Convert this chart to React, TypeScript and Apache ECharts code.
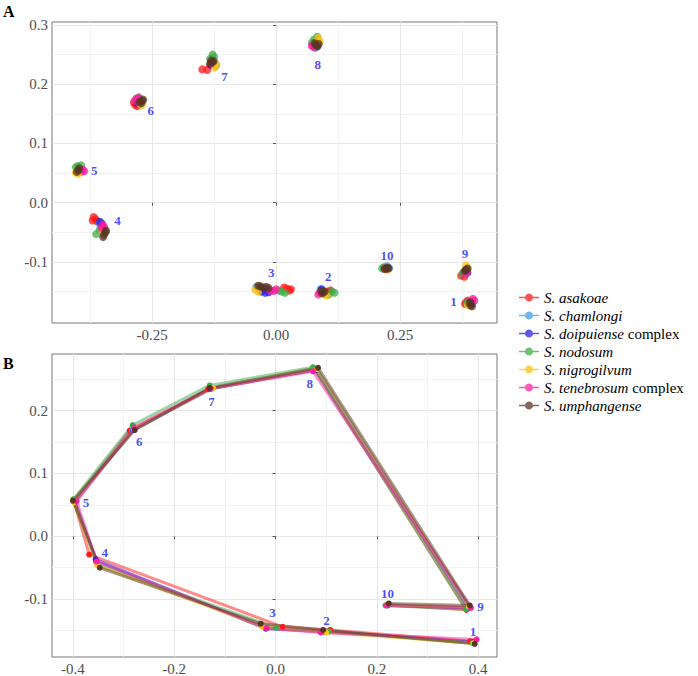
import React, { useEffect, useRef } from "react";
import * as echarts from "echarts";

const species = [
  "S. asakoae",
  "S. chamlongi",
  "S. doipuiense complex",
  "S. nodosum",
  "S. nigrogilvum",
  "S. tenebrosum complex",
  "S. umphangense",
];
const colors = ["#ff1a1a", "#3d9fe8", "#2a1fe0", "#3cae45", "#ffc20e", "#ff1f9e", "#5a3421"];

const landmarkNames = ["1", "2", "3", "4", "5", "6", "7", "8", "9", "10"];

// Panel A: specimen landmark coordinates (Procrustes aligned)
const asakoaeA = [
  [0.383, -0.168], [0.387, -0.165], [0.381, -0.171],
  [0.104, -0.15], [0.11, -0.148], [0.1, -0.153],
  [0.022, -0.145], [0.027, -0.148], [0.016, -0.143], [0.03, -0.146],
  [-0.368, -0.024], [-0.364, -0.028], [-0.37, -0.03], [-0.36, -0.032],
  [-0.398, 0.057], [-0.394, 0.052],
  [-0.284, 0.165], [-0.28, 0.163], [-0.287, 0.169],
  [-0.149, 0.225], [-0.139, 0.224], [-0.133, 0.232],
  [0.078, 0.262], [0.074, 0.266],
  [0.373, -0.123], [0.377, -0.119], [0.38, -0.125],
  [0.219, -0.11], [0.223, -0.112],
];
const chamlongiA = [
  [0.392, -0.168], [0.396, -0.17],
  [0.09, -0.146], [0.096, -0.15],
  [-0.04, -0.142], [-0.028, -0.147],
  [-0.356, -0.035], [-0.352, -0.04],
  [-0.396, 0.057], [-0.401, 0.053],
  [-0.279, 0.171], [-0.274, 0.168],
  [-0.124, 0.236], [-0.121, 0.231], [-0.128, 0.24],
  [0.086, 0.27], [0.08, 0.262],
  [0.386, -0.113], [0.38, -0.116],
  [0.228, -0.11], [0.224, -0.107],
];
const doipuienseA = [
  [0.39, -0.168], [0.394, -0.171],
  [0.092, -0.146], [0.098, -0.153],
  [-0.022, -0.152], [-0.015, -0.151], [-0.03, -0.15],
  [-0.355, -0.032], [-0.351, -0.036],
  [-0.397, 0.055],
  [-0.281, 0.169], [-0.276, 0.173],
  [-0.127, 0.236], [-0.131, 0.233],
  [0.082, 0.265], [0.078, 0.27],
  [0.383, -0.114], [0.386, -0.118],
  [0.221, -0.11],
];
const nodosumA = [
  [0.388, -0.171], [0.385, -0.169],
  [0.118, -0.152], [0.112, -0.15], [0.106, -0.155],
  [0.011, -0.15], [0.004, -0.148], [0.018, -0.152],
  [-0.363, -0.053], [-0.356, -0.046],
  [-0.4, 0.062], [-0.404, 0.06], [-0.393, 0.063],
  [-0.282, 0.176], [-0.277, 0.178],
  [-0.128, 0.25], [-0.133, 0.243], [-0.125, 0.246],
  [0.072, 0.27], [0.076, 0.275], [0.083, 0.28],
  [0.376, -0.12], [0.379, -0.117],
  [0.214, -0.111], [0.217, -0.109],
];
const nigrogilvumA = [
  [0.391, -0.172], [0.387, -0.173],
  [0.102, -0.157], [0.098, -0.154],
  [-0.042, -0.147], [-0.036, -0.15],
  [-0.35, -0.049], [-0.346, -0.044],
  [-0.399, 0.049], [-0.404, 0.051],
  [-0.27, 0.165], [-0.274, 0.167],
  [-0.124, 0.228], [-0.12, 0.233],
  [0.085, 0.278], [0.088, 0.272],
  [0.383, -0.106], [0.387, -0.11],
  [0.224, -0.113],
];
const tenebrosumA = [
  [0.4, -0.165], [0.397, -0.162],
  [0.085, -0.155], [0.088, -0.152],
  [-0.005, -0.149], [-0.012, -0.148], [0.0, -0.146],
  [-0.35, -0.037], [-0.347, -0.041], [-0.352, -0.043],
  [-0.387, 0.053], [-0.39, 0.056],
  [-0.281, 0.175], [-0.277, 0.177], [-0.285, 0.172],
  [-0.13, 0.236],
  [0.076, 0.263], [0.072, 0.265],
  [0.385, -0.116], [0.381, -0.12],
  [0.22, -0.111],
];
const umphangenseA = [
  [0.393, -0.173], [0.39, -0.17], [0.395, -0.175], [0.392, -0.168],
  [0.095, -0.151], [0.091, -0.149], [0.098, -0.15], [0.093, -0.153],
  [-0.032, -0.141], [-0.026, -0.143], [-0.02, -0.142], [-0.036, -0.14], [-0.015, -0.144],
  [-0.347, -0.054], [-0.344, -0.05], [-0.349, -0.058], [-0.343, -0.047],
  [-0.399, 0.055], [-0.402, 0.052], [-0.397, 0.058],
  [-0.272, 0.168], [-0.276, 0.17], [-0.27, 0.172], [-0.268, 0.174],
  [-0.129, 0.237], [-0.133, 0.235], [-0.126, 0.239], [-0.131, 0.24],
  [0.08, 0.266], [0.084, 0.264], [0.078, 0.269], [0.086, 0.268],
  [0.383, -0.113], [0.386, -0.111], [0.381, -0.115],
  [0.222, -0.111], [0.225, -0.11], [0.219, -0.112], [0.227, -0.111],
];

// Panel B: mean shapes, landmarks 1..10
const asakoaeB = [
  [0.384, -0.167], [0.108, -0.149], [0.014, -0.144], [-0.368, -0.029], [-0.398, 0.056],
  [-0.288, 0.168], [-0.133, 0.234], [0.078, 0.265], [0.377, -0.117], [0.221, -0.109],
];
const chamlongiB = [
  [0.392, -0.169], [0.098, -0.151], [-0.02, -0.146], [-0.355, -0.04], [-0.397, 0.056],
  [-0.283, 0.169], [-0.125, 0.235], [0.082, 0.266], [0.382, -0.113], [0.222, -0.109],
];
const doipuienseB = [
  [0.391, -0.168], [0.096, -0.152], [-0.019, -0.147], [-0.355, -0.037], [-0.396, 0.055],
  [-0.281, 0.169], [-0.128, 0.235], [0.08, 0.265], [0.381, -0.114], [0.222, -0.11],
];
const nodosumB = [
  [0.389, -0.17], [0.106, -0.151], [0.001, -0.1455], [-0.352, -0.045], [-0.399, 0.059],
  [-0.282, 0.177], [-0.13, 0.24], [0.074, 0.269], [0.376, -0.116], [0.217, -0.11],
];
const nigrogilvumB = [
  [0.391, -0.17], [0.1, -0.153], [-0.026, -0.144], [-0.352, -0.046], [-0.398, 0.054],
  [-0.28, 0.17], [-0.123, 0.236], [0.082, 0.266], [0.382, -0.112], [0.222, -0.109],
];
const tenebrosumB = [
  [0.397, -0.164], [0.089, -0.153], [-0.018, -0.146], [-0.353, -0.04], [-0.393, 0.0556],
  [-0.28, 0.173], [-0.128, 0.235], [0.074, 0.2625], [0.386, -0.114], [0.22, -0.11],
];
const umphangenseB = [
  [0.3935, -0.171], [0.094, -0.149], [-0.029, -0.139], [-0.347, -0.05], [-0.4, 0.0567],
  [-0.278, 0.169], [-0.13, 0.236], [0.084, 0.268], [0.3836, -0.11], [0.2237, -0.1068],
];

// Landmark label positions (data coordinates)
const labelAx = [0.358, 0.105, -0.01, -0.32, -0.367, -0.253, -0.104, 0.084, 0.381, 0.2235];
const labelAy = [-0.1666, -0.1245, -0.117, -0.0305, 0.0543, 0.155, 0.2128, 0.234, -0.086, -0.089];
const labelBx = [0.39, 0.1007, -0.006, -0.337, -0.3745, -0.269, -0.1264, 0.0677, 0.4047, 0.221];
const labelBy = [-0.1508, -0.1338, -0.1216, -0.0254, 0.0535, 0.1514, 0.2143, 0.2424, -0.111, -0.0914];

// Axis ticks
const ticksAx = [-0.25, 0, 0.25];
const minorAx = [-0.375, -0.125, 0.125, 0.375];
const ticksAy = [-0.1, 0, 0.1, 0.2, 0.3];
const minorAy = [-0.15, -0.05, 0.05, 0.15, 0.25];
const ticksBx = [-0.4, -0.2, 0, 0.2, 0.4];
const minorBx = [-0.3, -0.1, 0.1, 0.3];
const ticksBy = [-0.1, 0, 0.1, 0.2];
const minorBy = [-0.15, -0.05, 0.05, 0.15, 0.25];

const panelA = [asakoaeA, chamlongiA, doipuienseA, nodosumA, nigrogilvumA, tenebrosumA, umphangenseA];
const panelB = [asakoaeB, chamlongiB, doipuienseB, nodosumB, nigrogilvumB, tenebrosumB, umphangenseB];

const SERIF = "Liberation Serif";

function majorAxis(gridIndex: number, min: number, max: number, ticks: number[], digits: number, pos: string) {
  return {
    type: "value",
    gridIndex,
    min,
    max,
    position: pos,
    axisLine: { show: false },
    axisTick: { show: true, length: 3, customValues: ticks, lineStyle: { color: "#555", width: 1 } },
    axisLabel: {
      show: true,
      customValues: ticks,
      formatter: (v: number) => v.toFixed(digits),
      fontFamily: SERIF,
      fontSize: 15,
      color: "#4d4d4d",
      margin: 4,
    },
    splitLine: { show: true, lineStyle: { color: "#e6e6e6", width: 1 } },
  };
}
function minorAxis(gridIndex: number, min: number, max: number, ticks: number[], pos: string) {
  return {
    type: "value",
    gridIndex,
    min,
    max,
    position: pos,
    axisLine: { show: false },
    axisTick: { show: false, customValues: ticks },
    axisLabel: { show: false, customValues: ticks },
    splitLine: { show: true, lineStyle: { color: "#f2f2f2", width: 1 } },
  };
}

export default function App() {
  const ref = useRef<HTMLDivElement>(null);
  useEffect(() => {
    document.body.style.margin = "0";
    const chart = echarts.init(ref.current!, null, { renderer: "svg" });
    const series: any[] = [];
    species.forEach((name, i) => {
      series.push({
        type: "scatter",
        name,
        xAxisIndex: 0,
        yAxisIndex: 0,
        data: panelA[i],
        symbolSize: 8,
        itemStyle: { color: colors[i], opacity: 0.75 },
        z: 3,
      });
    });
    species.forEach((name, i) => {
      series.push({
        type: "line",
        name,
        xAxisIndex: 2,
        yAxisIndex: 2,
        data: panelB[i],
        showSymbol: false,
        symbol: "none",
        lineStyle: { color: colors[i], width: 3, opacity: 0.5 },
        itemStyle: { color: colors[i] },
        z: 2,
      });
    });
    species.forEach((name, i) => {
      series.push({
        type: "scatter",
        name,
        xAxisIndex: 2,
        yAxisIndex: 2,
        data: panelB[i],
        symbolSize: 6,
        itemStyle: { color: colors[i], opacity: 1 },
        z: 4,
      });
    });
    const labelStyle = {
      show: true,
      position: "inside",
      formatter: (p: any) => p.value[2],
      color: "#1a1aff",
      fontFamily: SERIF,
      fontWeight: "bold",
      fontSize: 13,
    };
    series.push({
      type: "scatter",
      name: "labelsA",
      xAxisIndex: 0,
      yAxisIndex: 0,
      symbolSize: 0,
      data: landmarkNames.map((n, i) => [labelAx[i], labelAy[i], n]),
      label: labelStyle,
      z: 6,
    });
    series.push({
      type: "scatter",
      name: "labelsB",
      xAxisIndex: 2,
      yAxisIndex: 2,
      symbolSize: 0,
      data: landmarkNames.map((n, i) => [labelBx[i], labelBy[i], n]),
      label: labelStyle,
      z: 6,
    });

    const option: any = {
      animation: false,
      backgroundColor: "#ffffff",
      grid: [
        { left: 52, top: 22, width: 445, height: 301, show: true, borderColor: "#777", borderWidth: 1, backgroundColor: "transparent" },
        { left: 52, top: 354, width: 445, height: 304, show: true, borderColor: "#777", borderWidth: 1, backgroundColor: "transparent" },
      ],
      xAxis: [
        majorAxis(0, -0.452, 0.4456, ticksAx, 2, "bottom"),
        minorAxis(0, -0.452, 0.4456, minorAx, "top"),
        majorAxis(1, -0.4414, 0.4374, ticksBx, 1, "bottom"),
        minorAxis(1, -0.4414, 0.4374, minorBx, "top"),
      ],
      yAxis: [
        majorAxis(0, -0.203, 0.305, ticksAy, 1, "left"),
        minorAxis(0, -0.203, 0.305, minorAy, "right"),
        majorAxis(1, -0.192, 0.29, ticksBy, 1, "left"),
        minorAxis(1, -0.192, 0.29, minorBy, "right"),
      ],
      legend: {
        data: species,
        orient: "vertical",
        left: 514,
        top: 285,
        itemGap: 3,
        itemWidth: 20,
        itemHeight: 8,
        icon: "path://M0,3.3h20v1.4h-20z M10,0a4,4 0 1,1 -0.001,0z",
        selectedMode: false,
        formatter: (name: string) => {
          if (name.endsWith(" complex")) {
            return "{i|" + name.replace(" complex", "") + "} complex";
          }
          return "{i|" + name + "}";
        },
        textStyle: {
          fontFamily: SERIF,
          fontSize: 15,
          color: "#000",
          rich: { i: { fontFamily: SERIF, fontSize: 15, fontStyle: "italic", color: "#000" } },
        },
      },
      graphic: [
        { type: "text", left: 3, top: 3, style: { text: "A", fontFamily: SERIF, fontWeight: "bold", fontSize: 16, fill: "#000" } },
        { type: "text", left: 3, top: 355, style: { text: "B", fontFamily: SERIF, fontWeight: "bold", fontSize: 16, fill: "#000" } },
      ],
      series,
    };
    chart.setOption(option);
    return () => chart.dispose();
  }, []);
  return <div ref={ref} style={{ position: "fixed", left: 0, top: 0, width: 698, height: 676 }} />;
}
